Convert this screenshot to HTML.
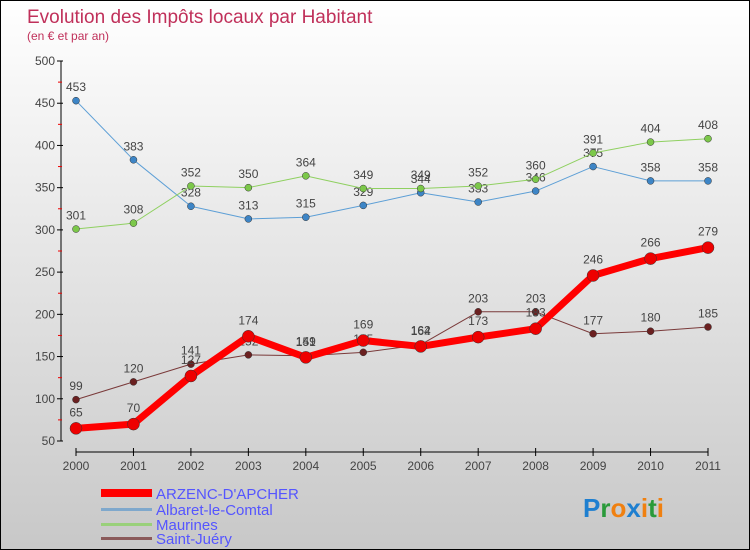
<!DOCTYPE html>
<html><head><meta charset="utf-8"><style>
body{margin:0}
#c{width:748px;height:548px;border:1px solid #000;background:linear-gradient(#fff,#c8c8c8);position:relative;overflow:hidden;font-family:"Liberation Sans",sans-serif}
text{font-family:"Liberation Sans",sans-serif}
</style></head><body>
<div id="c">
<svg id="s" width="748" height="548" xmlns="http://www.w3.org/2000/svg">
<text x="26" y="22" font-size="19" fill="#c0305a">Evolution des Impôts locaux par Habitant</text>
<text x="26" y="39" font-size="12" fill="#c0305a">(en € et par an)</text>
<g id="axes"></g><g id="series"></g>
<g>
<rect x="100" y="488" width="51" height="8" fill="#f00"/>
<text x="155" y="498" font-size="15" fill="#5555ff">ARZENC-D'APCHER</text>
<rect x="100" y="507" width="51" height="3" fill="#7fa8cc"/>
<text x="155" y="514" font-size="15" fill="#5555ff">Albaret-le-Comtal</text>
<rect x="100" y="522" width="51" height="3" fill="#99d07a"/>
<text x="155" y="529" font-size="15" fill="#5555ff">Maurines</text>
<rect x="100" y="536" width="51" height="3" fill="#8a5a5a"/>
<text x="155" y="543" font-size="15" fill="#5555ff">Saint-Juéry</text>
</g>
<text x="582" y="516" font-size="26" font-weight="bold"><tspan fill="#1e7fd0">P</tspan><tspan fill="#2a9a3a">r</tspan><tspan fill="#f08010">o</tspan><tspan fill="#1e7fd0">x</tspan><tspan fill="#f08010">i</tspan><tspan fill="#2a9a3a">t</tspan><tspan fill="#f08010">i</tspan></text>
</svg></div>
<script>
const years=["2000","2001","2002","2003","2004","2005","2006","2007","2008","2009","2010","2011"];
const yTicks=[50,100,150,200,250,300,350,400,450,500];
const arzenc=[65,70,127,174,149,169,162,173,183,246,266,279];
const albaret=[453,383,328,313,315,329,344,333,346,375,358,358];
const maurines=[301,308,352,350,364,349,349,352,360,391,404,408];
const saintJuery=[99,120,141,152,151,155,164,203,203,177,180,185];
const NS="http://www.w3.org/2000/svg";
function X(i){return 75+i*(632/11);}
function Y(v){return 440-(v-50)*(380/450);}
function mk(t,a,p){const e=document.createElementNS(NS,t);for(const k in a)e.setAttribute(k,a[k]);p.appendChild(e);return e;}
const ax=document.getElementById('axes');
let yl=mk('line',{x1:60,y1:60,x2:60,y2:440,stroke:'#000','stroke-width':1},ax);


yTicks.forEach((v,i)=>{
 mk('line',{x1:56,y1:Y(v),x2:62,y2:Y(v),stroke:'#000'},ax);
 if(i<yTicks.length-1)mk('line',{x1:57,y1:Y(v+25),x2:61,y2:Y(v+25),stroke:'#e00'},ax);
 const t=mk('text',{x:54,y:Y(v)+4,'font-size':12,fill:'#444','text-anchor':'end'},ax);t.textContent=v;
 
 
});
let xl=mk('line',{x1:75,y1:451,x2:707,y2:451,stroke:'#000'},ax);


years.forEach((y,i)=>{
 mk('line',{x1:X(i),y1:447,x2:X(i),y2:455,stroke:'#000'},ax);
 const t=mk('text',{x:X(i),y:469,'font-size':12,fill:'#444','text-anchor':'middle'},ax);t.textContent=y;
 
 
});
const sg=document.getElementById('series');
function series(d,color,dot,w,r,name){
 const g=mk('g',{},sg);
 
 
 const l=mk('polyline',{points:d.map((v,i)=>X(i)+','+Y(v)).join(' '),fill:'none',stroke:color,'stroke-width':w,'stroke-linejoin':'round'},g);
 
 
 d.forEach((v,i)=>{
  const c=mk('circle',{cx:X(i),cy:Y(v),r:r,fill:dot,stroke:'#333','stroke-width':0.5},g);
  
  
  const t=mk('text',{x:X(i),y:Y(v)-(r+6),'font-size':12,fill:'#444','text-anchor':'middle'},g);t.textContent=v;
  
  
 });
}
series(albaret,'#5d9fd6','#3d85c6',1,3.5,'albaret-series');
series(maurines,'#8fd060','#7cc84a',1,3.5,'maurines-series');
series(saintJuery,'#7a3a3a','#6b2020',1,3.5,'saint-juery-series');
series(arzenc,'#ff0000','#ee0000',7,6,'arzenc-series');
</script>
</body></html>
